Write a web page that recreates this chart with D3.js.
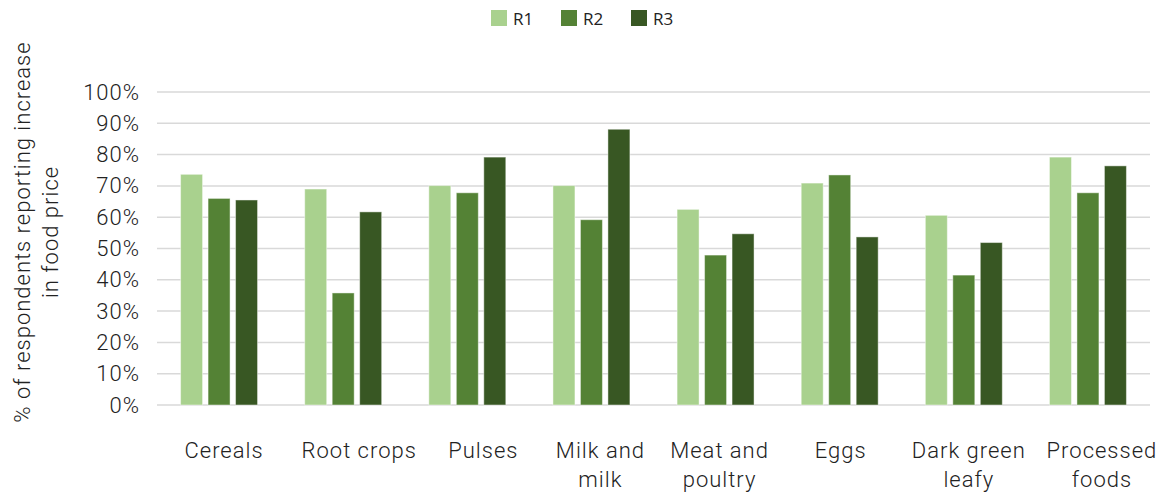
<!DOCTYPE html>
<html>
<head>
<meta charset="utf-8">
<script src="https://cdn.jsdelivr.net/npm/d3@7"></script>
<style>
  body { margin: 0; background: #fff; }
  svg { display: block; }
  .tick text { font-family: "Roboto", "Liberation Sans", sans-serif; font-weight: 300; fill: #222; letter-spacing: 1px; }
</style>
</head>
<body>
<svg id="chart" width="1172" height="493"></svg>
<script>
// Share of respondents reporting a food price increase, by food group and round
const categories = [
  ["Cereals"], ["Root crops"], ["Pulses"], ["Milk and", "milk"],
  ["Meat and", "poultry"], ["Eggs"], ["Dark green", "leafy"], ["Processed", "foods"]
];
const seriesNames = ["R1", "R2", "R3"];
const r1 = [73.7, 69.0, 70.1, 70.1, 62.5, 70.9, 60.6, 79.2];
const r2 = [66.0, 35.8, 67.8, 59.2, 47.9, 73.5, 41.5, 67.8];
const r3 = [65.5, 61.7, 79.2, 88.1, 54.7, 53.7, 51.9, 76.4];
const yTicks = [0, 10, 20, 30, 40, 50, 60, 70, 80, 90, 100];
const colors = ["#a9d18e", "#548235", "#385723"];

const series = [r1, r2, r3];
const svg = d3.select("#chart");
const margin = { left: 157, right: 22, top: 92, bottom: 88 };
const W = 1172, H = 493;
const labelFont = "Roboto, 'Liberation Sans', sans-serif";
const labelSize = "22px";
// small horizontal nudges for the category captions (layout only)
const captionNudge = [5, 16, 16, 9, 4, 1, 5, 14];

const x = d3.scaleBand()
  .domain(d3.range(categories.length))
  .range([margin.left, W - margin.right])
  .paddingInner(0.38)
  .paddingOuter(0.19);

const xs = d3.scaleBand()
  .domain(seriesNames)
  .range([0, x.bandwidth()])
  .paddingInner(0.2);

const y = d3.scaleLinear().domain([0, 100]).range([H - margin.bottom, margin.top]);

// gridlines
svg.append("g")
  .selectAll("line")
  .data(yTicks)
  .join("line")
  .attr("x1", margin.left)
  .attr("x2", W - margin.right)
  .attr("y1", d => y(d))
  .attr("y2", d => y(d))
  .attr("stroke", "#d9d9d9")
  .attr("stroke-width", 1.5);

// y axis labels
const yAxis = svg.append("g")
  .attr("transform", `translate(${margin.left},0)`)
  .call(d3.axisLeft(y).tickValues(yTicks).tickFormat(d => d + "%").tickSize(0).tickPadding(17));
yAxis.select(".domain").remove();
yAxis.selectAll("text").style("font-size", labelSize);

// bars
series.forEach((vals, si) => {
  svg.append("g")
    .selectAll("rect")
    .data(vals)
    .join("rect")
    .attr("x", (d, i) => x(i) + xs(seriesNames[si]))
    .attr("width", xs.bandwidth())
    .attr("y", d => y(d))
    .attr("height", d => y(0) - y(d))
    .attr("fill", colors[si])
    .attr("stroke", "#ffffff")
    .attr("stroke-opacity", 0.45)
    .attr("stroke-width", 1);
});

// category labels
const catG = svg.append("g")
  .style("font-family", labelFont)
  .style("font-weight", 300)
  .style("font-size", labelSize)
  .style("letter-spacing", "1px")
  .attr("fill", "#222")
  .attr("text-anchor", "middle");
categories.forEach((lines, i) => {
  const cx = x(i) + x.bandwidth() / 2 + captionNudge[i];
  const t = catG.append("text")
    .attr("x", cx)
    .attr("y", 458);
  lines.forEach((ln, j) => {
    t.append("tspan")
      .attr("x", cx)
      .attr("dy", j === 0 ? 0 : 29)
      .text(ln);
  });
});

// y axis title
const title = svg.append("text")
  .attr("transform", "translate(0,232) rotate(-90)")
  .attr("text-anchor", "middle")
  .style("font-family", labelFont)
  .style("font-weight", 300)
  .style("font-size", labelSize)
  .style("letter-spacing", "1px")
  .attr("fill", "#222");
title.append("tspan").attr("x", 0).attr("y", 30).text("% of respondents reporting increase");
title.append("tspan").attr("x", 0).attr("y", 58).text("in food price");

// legend
const legend = svg.append("g")
  .style("font-family", "'Open Sans', 'Noto Sans', sans-serif")
  .style("font-size", "17px")
  .attr("fill", "#222");
const legendX = [491, 561, 631];
seriesNames.forEach((name, i) => {
  legend.append("rect")
    .attr("x", legendX[i]).attr("y", 10)
    .attr("width", 16).attr("height", 16)
    .attr("fill", colors[i]);
  legend.append("text")
    .attr("x", legendX[i] + 22).attr("y", 25)
    .text(name);
});
</script>
</body>
</html>
